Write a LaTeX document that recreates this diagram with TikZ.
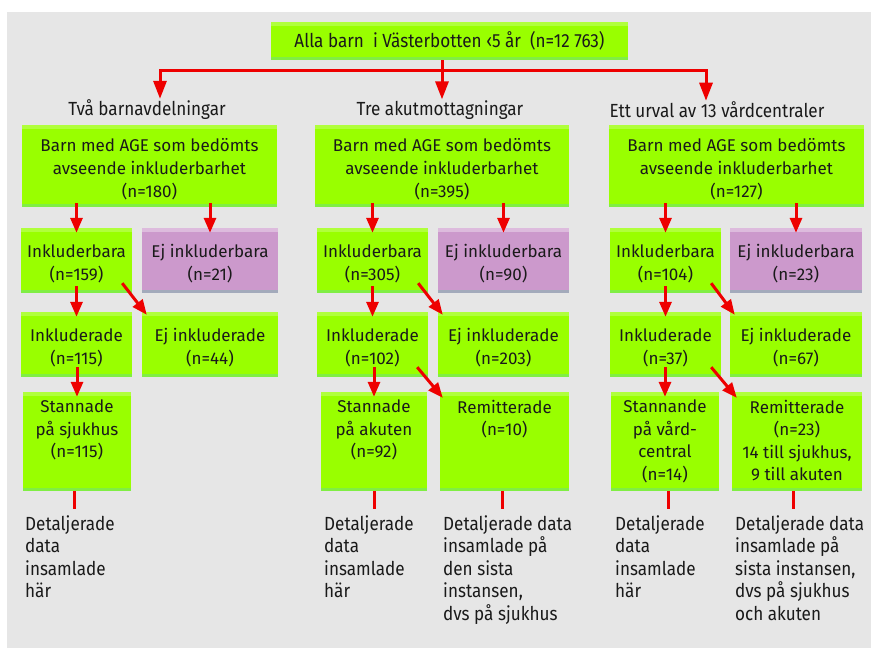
\documentclass[tikz,border=0pt]{standalone}
\usepackage{fontspec}
\setmainfont{Fira Sans}
\newfontfamily\condfont[FakeStretch=0.9]{Fira Sans}
\usetikzlibrary{arrows.meta,calc}
\definecolor{bg}{HTML}{E6E6E6}
\definecolor{gmain}{HTML}{99FF00}
\definecolor{gtop}{HTML}{B0FF3C}
\definecolor{gbot}{HTML}{80EE44}
\definecolor{pmain}{HTML}{CC99CC}
\definecolor{ptop}{HTML}{DDBBDD}
\definecolor{pbot}{HTML}{A3AABB}
\definecolor{arrred}{HTML}{EE0000}
\definecolor{txt}{HTML}{1A1A1A}
\newcommand{\txtup}{\rule{0pt}{18.5pt}}
\begin{document}
\begin{tikzpicture}[x=1pt,y=-1pt,
  boxtext/.style={font=\fontsize{17}{23}\selectfont, align=center, text=txt},
  sz/.style 2 args={minimum width=#1pt, minimum height=#2pt},
  gbox/.style={boxtext, fill=gmain, inner sep=0pt, path picture={
     \fill[gtop] (path picture bounding box.north west) rectangle ([yshift=-4pt]path picture bounding box.north east);
     \fill[gbot] ([yshift=3pt]path picture bounding box.south west) rectangle (path picture bounding box.south east);}},
  pbox/.style={boxtext, fill=pmain, inner sep=0pt, path picture={
     \fill[ptop] (path picture bounding box.north west) rectangle ([yshift=-4pt]path picture bounding box.north east);
     \fill[pbot] ([yshift=3pt]path picture bounding box.south west) rectangle (path picture bounding box.south east);}},
  toptext/.style={font=\fontsize{17}{22.5}\selectfont, align=center, text=txt, inner sep=0pt, anchor=north},
  note/.style={font=\condfont\fontsize{19}{22.5}\selectfont, align=left, inner sep=0pt, text=txt, anchor=north west},
  head/.style={font=\condfont\fontsize{19}{22.5}\selectfont, inner sep=0pt, text=txt},
  rl/.style={draw=arrred, line width=3pt},
  arr/.style={draw=arrred, line width=3pt, -{Triangle[width=12pt,length=15pt]}},
  arrbig/.style={draw=arrred, line width=3pt, -{Triangle[width=13pt,length=18pt]}}
]
\useasboundingbox (0,0) rectangle (871,650);
\fill[bg] (7,12) rectangle (871,648);

% top
\node[gbox, sz={357}{38}, font=\condfont\fontsize{19}{22.5}\selectfont] (top) at (449.5,41) {Alla barn\ \ i Västerbotten ‹5 år\ \ (n=12 763)};
\node[head] (h1) at (147,110) {Två barnavdelningar};
\node[head] (h2) at (440,110) {Tre akutmottagningar};
\node[head] (h3) at (717,110) {Ett urval av 13 vårdcentraler};
\coordinate (j0) at (442,71);
\coordinate (jl) at (160,71);
\coordinate (jr) at (706,71);
\draw[rl] (top.south -| j0) -- (j0);
\draw[rl, line cap=rect] (jl) -- (jr);
\draw[arrbig] (jl) -- ($(jl |- h1.north)+(0,-1)$);
\draw[arrbig] (j0) -- ($(j0 |- h2.north)+(0,-1)$);
\draw[arrbig] (jr) -- ($(jr |- h3.north)+(0,-1)$);

% column 1
\node[gbox, sz={255}{82}] (b1) at (149.5,166) {\txtup Barn med AGE som bedömts\\avseende inkluderbarhet\\(n=180)};
\node[gbox, sz={111}{65}] (i1) at (76.5,260.5) {\txtup Inkluderbara\\(n=159)};
\node[pbox, sz={136}{65}] (e1) at (210,260.5) {\txtup Ej inkluderbara\\(n=21)};
\node[gbox, sz={111}{65}] (d1) at (76.5,344.5) {\txtup Inkluderade\\(n=115)};
\node[gbox, sz={136}{65}] (n1) at (210,344.5) {\txtup Ej inkluderade\\(n=44)};
\node[gbox, sz={108}{99}] (s1) at (77,441.5) {};
\node[toptext] (s1t) at ($(s1.north)+(0,8)$) {Stannade\\på sjukhus\\(n=115)};

% column 2
\node[gbox, sz={254}{82}] (b2) at (442,166) {\txtup Barn med AGE som bedömts\\avseende inkluderbarhet\\(n=395)};
\node[gbox, sz={111}{65}] (i2) at (372.5,260.5) {\txtup Inkluderbara\\(n=305)};
\node[pbox, sz={131}{65}] (e2) at (503.5,260.5) {\txtup Ej inkluderbara\\(n=90)};
\node[gbox, sz={111}{65}] (d2) at (372.5,344.5) {\txtup Inkluderade\\(n=102)};
\node[gbox, sz={131}{65}] (n2) at (503.5,344.5) {\txtup Ej inkluderade\\(n=203)};
\node[gbox, sz={106}{99}] (s2) at (374,441.5) {};
\node[toptext] (s2t) at ($(s2.north)+(0,8)$) {Stannade\\på akuten\\(n=92)};
\node[gbox, sz={129}{99}] (r2) at (504.5,441.5) {};
\node[toptext] (r2t) at ($(r2.north)+(0,8)$) {Remitterade\\(n=10)};

% column 3
\node[gbox, sz={255}{82}] (b3) at (736.5,166) {\txtup Barn med AGE som bedömts\\avseende inkluderbarhet\\(n=127)};
\node[gbox, sz={111}{65}] (i3) at (665.5,260.5) {\txtup Inkluderbara\\(n=104)};
\node[pbox, sz={132}{65}] (e3) at (796,260.5) {\txtup Ej inkluderbara\\(n=23)};
\node[gbox, sz={111}{65}] (d3) at (665.5,344.5) {\txtup Inkluderade\\(n=37)};
\node[gbox, sz={132}{65}] (n3) at (796,344.5) {\txtup Ej inkluderade\\(n=67)};
\node[gbox, sz={108}{99}] (s3) at (665,441.5) {};
\node[toptext] (s3t) at ($(s3.north)+(0,8)$) {Stannande\\på vård-\\central\\(n=14)};
\node[gbox, sz={130}{99}] (r3) at (797,441.5) {};
\node[toptext] (r3t) at ($(r3.north)+(0,8)$) {Remitterade\\(n=23)\\14 till sjukhus,\\9 till akuten};

% arrows
\foreach \c in {1,2,3}{
  \draw[arr] ($(b\c.south -| i\c.north)+(0,-4)$) -- ($(i\c.north)+(0,5)$);
  \draw[arr] ($(b\c.south -| e\c.north)+(0,-4)$) -- ($(e\c.north)+(0,5)$);
  \draw[arr] ($(i\c.south)+(0,-7)$) -- ($(d\c.north)+(0,5)$);
  \draw[arr] ($(i\c.south east)+(-10,-10)$) -- ($(n\c.north west)+(5,3)$);
}
\draw[arr] ($(d1.south -| s1.north)+(0,-10)$) -- ($(s1.north)+(0,5)$);
\draw[arr] ($(d2.south -| s2.north)+(0,-10)$) -- ($(s2.north)+(0,5)$);
\draw[arr] ($(d3.south -| s3.north)+(0,-10)$) -- ($(s3.north)+(0,5)$);
\draw[arr] ($(d2.south east)+(-11,-10)$) -- ($(r2.north west)+(3,6)$);
\draw[arr] ($(d3.south east)+(-10,-10)$) -- ($(r3.north west)+(5,6)$);

% bottom lines
\coordinate (l1) at (74,509);
\coordinate (l2) at (374,509);
\coordinate (l3) at (502,509);
\coordinate (l4) at (668,509);
\coordinate (l5) at (793,509);
\draw[rl] (s1.south -| l1) -- (l1);
\draw[rl] (s2.south -| l2) -- (l2);
\draw[rl] (r2.south -| l3) -- (l3);
\draw[rl] (s3.south -| l4) -- (l4);
\draw[rl] (r3.south -| l5) -- (l5);

% notes
\node[note] (t1) at (25,515) {Detaljerade\\data\\insamlade\\här};
\node[note] (t2) at (324,515) {Detaljerade\\data\\insamlade\\här};
\node[note] (t3) at (443,515) {Detaljerade data\\insamlade på\\den sista\\instansen,\\dvs på sjukhus};
\node[note] (t4) at (615,515) {Detaljerade\\data\\insamlade\\här};
\node[note] (t5) at (735,515) {Detaljerade data\\insamlade på\\sista instansen,\\dvs på sjukhus\\och akuten};
\end{tikzpicture}
\end{document}
